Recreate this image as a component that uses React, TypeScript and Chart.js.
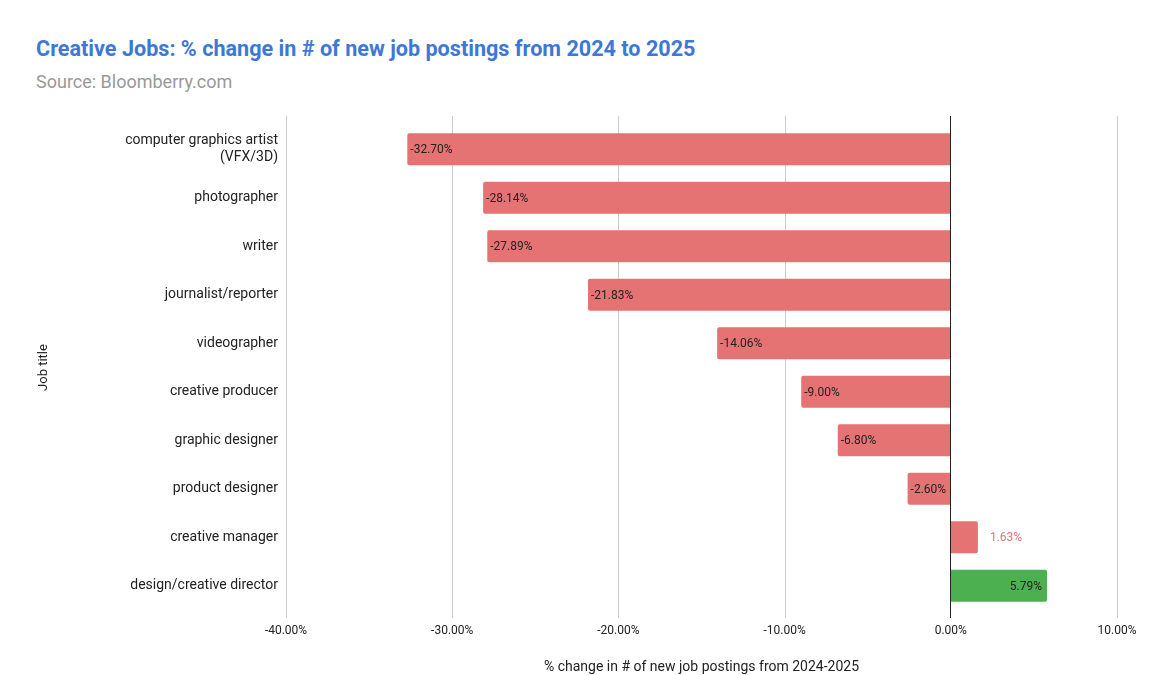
import React, { useEffect, useRef } from "react";
import { Chart, registerables } from "chart.js";

Chart.register(...registerables);

const categories: (string | string[])[] = [
  ["computer graphics artist", "(VFX/3D)"],
  "photographer",
  "writer",
  "journalist/reporter",
  "videographer",
  "creative producer",
  "graphic designer",
  "product designer",
  "creative manager",
  "design/creative director",
];
const values: number[] = [-32.7, -28.14, -27.89, -21.83, -14.06, -9.0, -6.8, -2.6, 1.63, 5.79];
const barColors: string[] = [
  "#e57373", "#e57373", "#e57373", "#e57373", "#e57373",
  "#e57373", "#e57373", "#e57373", "#e57373", "#4caf50",
];
const xTickValues: number[] = [-40, -30, -20, -10, 0, 10];

const FONT = "Roboto, 'Noto Sans', sans-serif";

const labelPlugin = {
  id: "valueLabels",
  beforeDatasetsDraw(chart: any) {
    const { ctx, chartArea, scales } = chart;
    const x = scales.x;
    ctx.save();
    ctx.strokeStyle = "#cccccc";
    ctx.lineWidth = 1;
    xTickValues.forEach((v) => {
      if (v === 0) return;
      const px = Math.round(x.getPixelForValue(v)) + 0.5;
      ctx.beginPath();
      ctx.moveTo(px, chartArea.top - 9);
      ctx.lineTo(px, chartArea.bottom + 8);
      ctx.stroke();
    });
    ctx.restore();
  },
  afterDatasetsDraw(chart: any) {
    const { ctx, chartArea, scales } = chart;
    const x = scales.x;
    ctx.save();
    const zx = Math.round(x.getPixelForValue(0)) - 0.5;
    ctx.strokeStyle = "#222222";
    ctx.lineWidth = 1;
    ctx.beginPath();
    ctx.moveTo(zx, chartArea.top - 9);
    ctx.lineTo(zx, chartArea.bottom + 8);
    ctx.stroke();

    const meta = chart.getDatasetMeta(0);
    ctx.font = `12px ${FONT}`;
    ctx.textBaseline = "middle";
    meta.data.forEach((bar: any, i: number) => {
      const v = values[i];
      const text = v.toFixed(2) + "%";
      const w = ctx.measureText(text).width;
      const barLen = Math.abs(bar.x - bar.base);
      if (v < 0) {
        ctx.fillStyle = "#222222";
        ctx.textAlign = "left";
        ctx.fillText(text, bar.x + 3, bar.y + 1);
      } else if (barLen > w + 8) {
        ctx.fillStyle = "#222222";
        ctx.textAlign = "right";
        ctx.fillText(text, bar.x - 5, bar.y + 1);
      } else {
        ctx.fillStyle = barColors[i];
        ctx.textAlign = "left";
        ctx.fillText(text, bar.x + 12, bar.y + 1);
      }
    });
    ctx.restore();
  },
};

export default function App() {
  const ref = useRef<HTMLCanvasElement | null>(null);

  useEffect(() => {
    if (!ref.current) return;
    const chart = new Chart(ref.current, {
      type: "bar",
      data: {
        labels: categories,
        datasets: [
          {
            data: values,
            backgroundColor: barColors,
            borderRadius: 2,
            borderSkipped: "start",
            barPercentage: 0.66,
            categoryPercentage: 1,
          },
        ],
      },
      options: {
        indexAxis: "y",
        animation: false,
        responsive: false,
        maintainAspectRatio: false,
        layout: { padding: { top: 125, right: 36, bottom: 0, left: 36 } },
        plugins: {
          legend: { display: false },
          tooltip: { enabled: false },
        },
        scales: {
          x: {
            min: -40,
            max: 10,
            afterBuildTicks(scale: any) {
              scale.ticks = xTickValues.map((v) => ({ value: v }));
            },
            afterFit(scale: any) {
              scale.height = 65;
            },
            grid: { display: false, drawTicks: false },
            border: { display: false },
            ticks: {
              padding: 14,
              color: "#222222",
              font: { family: FONT, size: 12 },
              callback: (v: any) => Number(v).toFixed(2) + "%",
            },
            title: {
              display: true,
              text: "% change in # of new job postings from 2024-2025",
              color: "#222222",
              font: { family: FONT, size: 14 },
              padding: { top: 0, bottom: -1 },
            },
          },
          y: {
            afterFit(scale: any) {
              scale.width = 250;
            },
            grid: { display: false, drawTicks: false },
            border: { display: false },
            ticks: {
              padding: 8,
              color: "#222222",
              font: { family: FONT, size: 14, lineHeight: 1.2 },
            },
            title: {
              display: true,
              text: "Job title",
              color: "#222222",
              font: { family: FONT, size: 13 },
              padding: { top: 0, bottom: 0 },
            },
          },
        },
      },
      plugins: [labelPlugin],
    });
    return () => chart.destroy();
  }, []);

  return (
    <div style={{ position: "absolute", left: 0, top: 0, width: 1153, height: 675, background: "#ffffff", overflow: "hidden" }}>
      <div style={{ position: "absolute", left: 36, top: 34, fontFamily: FONT, fontWeight: 700, fontSize: 21.6, color: "#3c78d8", whiteSpace: "nowrap", lineHeight: "30px" }}>
        Creative Jobs: % change in # of new job postings from 2024 to 2025
      </div>
      <div style={{ position: "absolute", left: 36, top: 70, fontFamily: FONT, fontSize: 18, color: "#999999", whiteSpace: "nowrap", lineHeight: "24px" }}>
        Source: Bloomberry.com
      </div>
      <canvas ref={ref} width={1153} height={675} style={{ position: "absolute", left: 0, top: 0, width: 1153, height: 675 }} />
    </div>
  );
}
